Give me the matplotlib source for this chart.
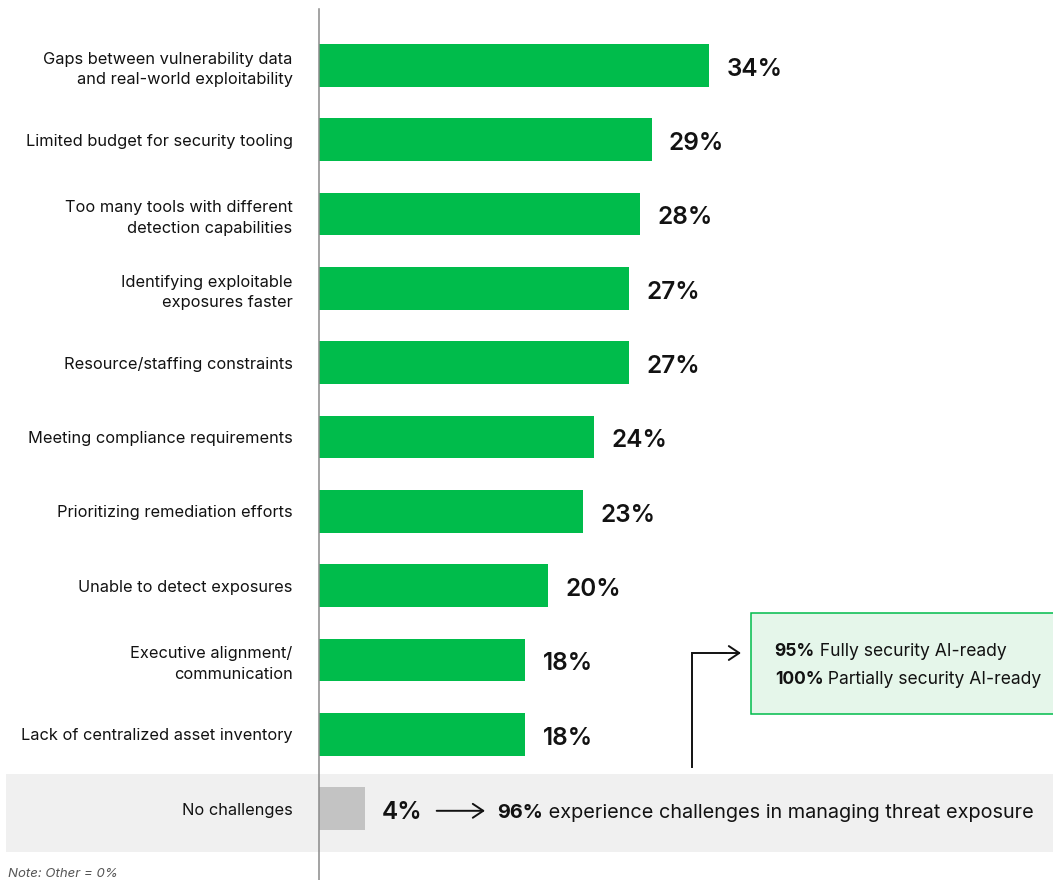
import matplotlib.pyplot as plt
from matplotlib.patches import Rectangle
from matplotlib.transforms import blended_transform_factory

plt.rcParams['font.family'] = ['Inter', 'DejaVu Sans']

# ==============================================
categories = ["Gaps between vulnerability data\nand real-world exploitability",
              "Limited budget for security tooling",
              "Too many tools with different\ndetection capabilities",
              "Identifying exploitable\nexposures faster",
              "Resource/staffing constraints",
              "Meeting compliance requirements",
              "Prioritizing remediation efforts",
              "Unable to detect exposures",
              "Executive alignment/\ncommunication",
              "Lack of centralized asset inventory",
              "No challenges"]
values = [34, 29, 28, 27, 27, 24, 23, 20, 18, 18, 4]

summary_pct = 96
summary_text = "experience challenges in managing threat exposure"
ai_ready_pct = [95, 100]
ai_ready_text = ["Fully security AI-ready", "Partially security AI-ready"]
note = "Note: Other = 0%"

green = "#00bc4b"
grey_bar = "#c3c3c3"
band = "#f0f0f0"
text_col = "#121212"
arrow_style = "->,head_length=0.75,head_width=0.5"

# ==============================================
W, H = 1053, 880
fig = plt.figure(figsize=(W / 100, H / 100), dpi=100)
ax = fig.add_axes([319 / W, 0, 1 - 319 / W, 1])

n = len(values)
ypos = list(range(n))
colors = [green] * (n - 1) + [grey_bar]
ax.barh(ypos, values, height=0.574, color=colors, zorder=2)

ax.set_xlim(0, (W - 319) / 11.47)
ax.set_ylim(10.961, -0.879)

# value labels
for y, v in zip(ypos, values):
    ax.annotate(f"{v}%", xy=(v, y), xytext=(12.5, -1), textcoords="offset points",
                va="center_baseline", ha="left", fontsize=17.5, fontweight="semibold",
                color=text_col, zorder=3)

# category labels
ax.set_yticks(ypos, labels=categories, fontsize=11.8, color=text_col)
for lbl in ax.get_yticklabels():
    lbl.set_linespacing(1.45)
ax.tick_params(axis="y", length=0, pad=19)
ax.set_xticks([])
for s in ["top", "right", "bottom"]:
    ax.spines[s].set_visible(False)
ax.spines["left"].set_color("#8a8a8a")
ax.spines["left"].set_linewidth(1.1)
ax.spines["left"].set_bounds(10.961, -0.758)
ax.spines["left"].set_zorder(4)

# light band behind the "No challenges" row
trans = blended_transform_factory(fig.transFigure, ax.transData)
ax.add_patch(Rectangle((6 / W, 9.53), 1 - 6 / W, 1.05, transform=trans,
                       facecolor=band, edgecolor="none", clip_on=False, zorder=0))

# arrow from "No challenges" to the summary
ax.annotate("", xy=(14.47, 10.03), xytext=(10.26, 10.03),
            arrowprops=dict(arrowstyle=arrow_style, color=text_col, lw=1.4,
                            shrinkA=0, shrinkB=0))
t = ax.text(15.52, 10.03, f"{summary_pct}%", fontsize=14.3, fontweight="bold",
            color=text_col, va="center_baseline", ha="left")
ax.annotate(" " + summary_text, xy=(1, 0), xycoords=t, va="bottom", ha="left",
            fontsize=14.3, color=text_col)

# connector up to the AI-readiness box
ax.plot([32.52, 32.52, 35.5], [9.436, 7.907, 7.907], color=text_col, lw=1.4,
        solid_joinstyle="miter", zorder=3)
ax.annotate("", xy=(36.79, 7.907), xytext=(35.0, 7.907),
            arrowprops=dict(arrowstyle=arrow_style, color=text_col, lw=1.4,
                            shrinkA=0, shrinkB=0))

ax.add_patch(Rectangle((37.66, 7.369), 40, 1.362, facecolor="#e5f6ea",
                       edgecolor=green, lw=1.1, clip_on=False, zorder=1))
for yy, pct, txt in zip([7.866, 8.239], ai_ready_pct, ai_ready_text):
    t = ax.text(39.73, yy, f"{pct}%", fontsize=12.6, fontweight="bold",
                color=text_col, va="center_baseline", ha="left")
    ax.annotate(" " + txt, xy=(1, 0), xycoords=t, va="bottom", ha="left",
                fontsize=12.6, color=text_col)

fig.text(8 / W, 1 - 868 / H, note, fontsize=9.5, style="italic", color="#555555",
         va="top", ha="left")

fig.savefig("out.png", dpi=100)
